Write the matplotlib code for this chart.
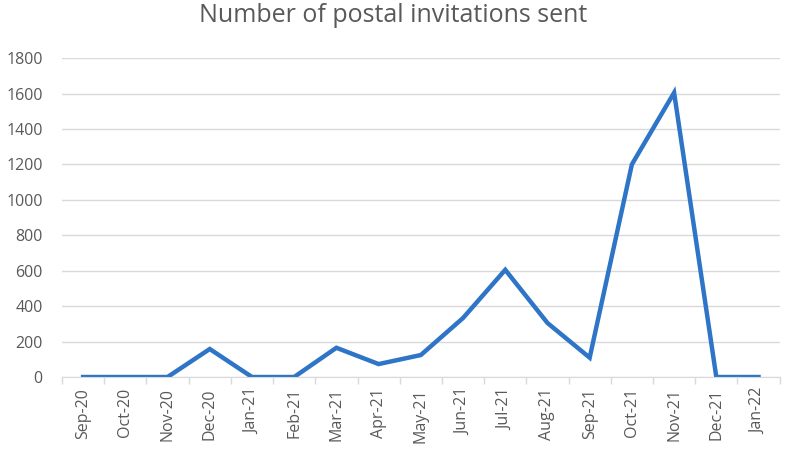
import matplotlib
matplotlib.use("Agg")
import matplotlib.pyplot as plt
import numpy as np

months = ["Sep-20", "Oct-20", "Nov-20", "Dec-20", "Jan-21", "Feb-21", "Mar-21", "Apr-21",
          "May-21", "Jun-21", "Jul-21", "Aug-21", "Sep-21", "Oct-21", "Nov-21", "Dec-21", "Jan-22"]
invitations = [0, 0, 0, 158, 0, 0, 165, 73, 124, 333, 605, 305, 109, 1200, 1605, 0, 0]
yticks = [0, 200, 400, 600, 800, 1000, 1200, 1400, 1600, 1800]

plt.rcParams['font.family'] = ['Open Sans', 'DejaVu Sans']

fig = plt.figure(figsize=(7.86, 4.54), dpi=100)
ax = fig.add_axes([0.0789, 0.1696, 0.913, 0.7024])

x = np.arange(len(months))
ax.plot(x, invitations, color='#2E74C7', linewidth=3.2, solid_joinstyle='miter')

ax.set_xlim(-0.5, len(months) - 0.5)
ax.set_ylim(0, 1800)
ax.set_yticks(yticks)
ax.set_yticklabels([str(v) for v in yticks], fontsize=11.5, color='#595959')
ax.grid(axis='y', color='#D9D9D9', linewidth=1)
ax.set_axisbelow(True)
ax.tick_params(axis='y', length=0, pad=14)

ax.set_xticks(x)
ax.set_xticklabels(months, rotation=90, fontsize=11.5, color='#595959')
ax.set_xticks(np.arange(-0.5, len(months), 1), minor=True)
ax.tick_params(axis='x', which='major', length=0, pad=8)
ax.tick_params(axis='x', which='minor', length=5, color='#D9D9D9', width=1)

for s in ['top', 'right', 'left']:
    ax.spines[s].set_visible(False)
ax.spines['bottom'].set_color('#D9D9D9')

fig.text(0.5, 0.965, "Number of postal invitations sent", ha='center', va='center',
         fontsize=18, color='#595959')

fig.savefig("out.png", dpi=100)
